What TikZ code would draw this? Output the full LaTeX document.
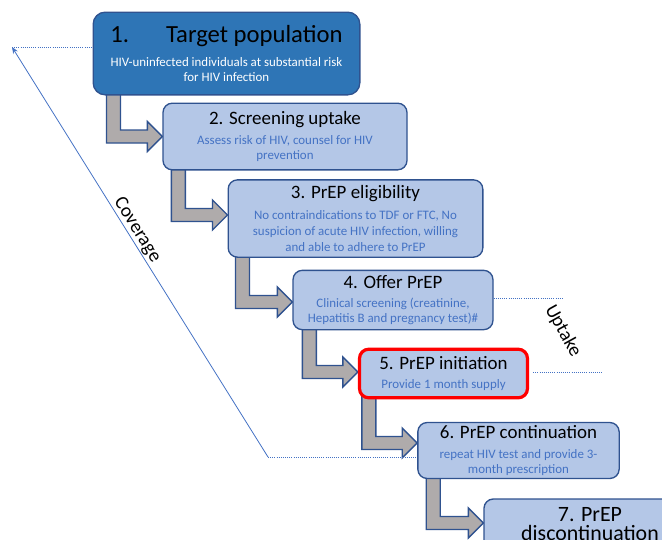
\documentclass[tikz,border=0pt]{standalone}
\usepackage{fontspec}
\setmainfont{Carlito}
\usetikzlibrary{calc,backgrounds,arrows.meta}
\definecolor{darkbox}{HTML}{2E75B6}
\definecolor{lightbox}{HTML}{B4C7E7}
\definecolor{boxline}{HTML}{2F528F}
\definecolor{subblue}{HTML}{4472C4}
\definecolor{flowgray}{HTML}{AFABAB}
\newcommand{\ttl}[1]{{\fontsize{14.2}{17}\selectfont\color{black}#1}}
\newcommand{\subf}{\fontsize{9.7}{11.7}\selectfont}

\begin{document}
\begin{tikzpicture}[x=0.75pt,y=-0.75pt]
    \useasboundingbox (0,0) rectangle (662,540);
    \clip (0,0) rectangle (662,540);
    \begin{scope}
        \tikzstyle{every node}=[draw=boxline, line width=1pt, fill=lightbox, rounded corners=7pt, align=center, inner sep=0pt, text=subblue, font=\subf]
        \node[fill=darkbox, text=white, rounded corners=9pt, minimum width=200pt, minimum height=62pt] (b1) at (226.5,53.5) {{\fontsize{18.5}{22}\selectfont\color{black}1.\hspace{1.5em}Target population}\\[6.5pt] HIV-uninfected individuals at substantial risk\\ for HIV infection};
        \node[minimum width=183pt, minimum height=50pt] (b2) at (285,136.5) {\ttl{2. Screening uptake}\\[3.3pt] Assess risk of HIV, counsel for HIV\\ prevention};
        \node[minimum width=191pt, minimum height=58pt] (b3) at (355.5,218.5) {\ttl{3. PrEP eligibility}\\[4pt] No contraindications to TDF or FTC, No\\ suspicion of acute HIV infection, willing\\ and able to adhere to PrEP};
        \node[minimum width=150pt, minimum height=44.5pt] (b4) at (393,300) {\ttl{4. Offer PrEP}\\[2.5pt] Clinical screening (creatinine,\\ Hepatitis B and pregnancy test)\#};
        \node[draw=red, line width=2.4pt, minimum width=126pt, minimum height=36.5pt] (b5) at (443.5,373.5) {\ttl{5. PrEP initiation}\\[2.5pt] Provide 1 month supply};
        \node[minimum width=151pt, minimum height=42pt] (b6) at (518.5,450.5) {\ttl{6. PrEP continuation}\\[3.3pt] repeat HIV test and provide 3-\\ month prescription};
        \node[minimum width=159pt, minimum height=37.5pt, text=black, font=\fontsize{16.4}{14.5}\selectfont] (b7) at (590,524) {7. PrEP\\ discontinuation};
    \end{scope}
    \begin{scope}[on background layer]
        \tikzstyle{flow}=[fill=flowgray, draw=boxline, line width=1pt, line join=miter]
        \foreach \a/\b/\o/\t in {b1/b2/14/0, b2/b3/9/-3.5, b3/b4/8/2, b4/b5/10/-1.5, b5/b6/4/-7.5, b6/b7/9/-1}
            \filldraw[flow] ($(\a.south west)+(\o,-8)$) coordinate (s) -- ++(14,0) |- ($(\b.west)+(-15,\t-6.5)$) -- ++(0,-8.5) -- ($(\b.west)+(0,\t)$) -- ++(-15,15) -- ++(0,-8.5) -| (s) -- cycle;
    \end{scope}
    \begin{scope}
        \tikzstyle{every node}=[font=\fontsize{14.5}{17}\selectfont, inner sep=0pt]
        \tikzstyle{guide}=[draw=subblue, line width=0.6pt]
        \coordinate (covtop) at (12,47);
        \coordinate (covbot) at (268,457);
        \coordinate (up4) at (562,298);
        \coordinate (up5) at (602,372);
        \node[rotate=-58] (cov) at (137,230) {Coverage};
        \node[rotate=-61] (upt) at (563,331) {Uptake};
        \draw[guide, -{Stealth[length=5pt,width=4pt]}] (covbot) -- (covtop);
        \draw[guide, densely dotted] (covtop) -- (covtop -| b1.west);
        \draw[guide, densely dotted] (covbot) -- (covbot -| b6.west);
        \draw[guide, densely dotted] (up4 -| b4.east) -- (up4);
        \draw[guide, densely dotted] ($(up5 -| b5.east)+(4,0)$) -- (up5);
    \end{scope}
\end{tikzpicture}
\end{document}
